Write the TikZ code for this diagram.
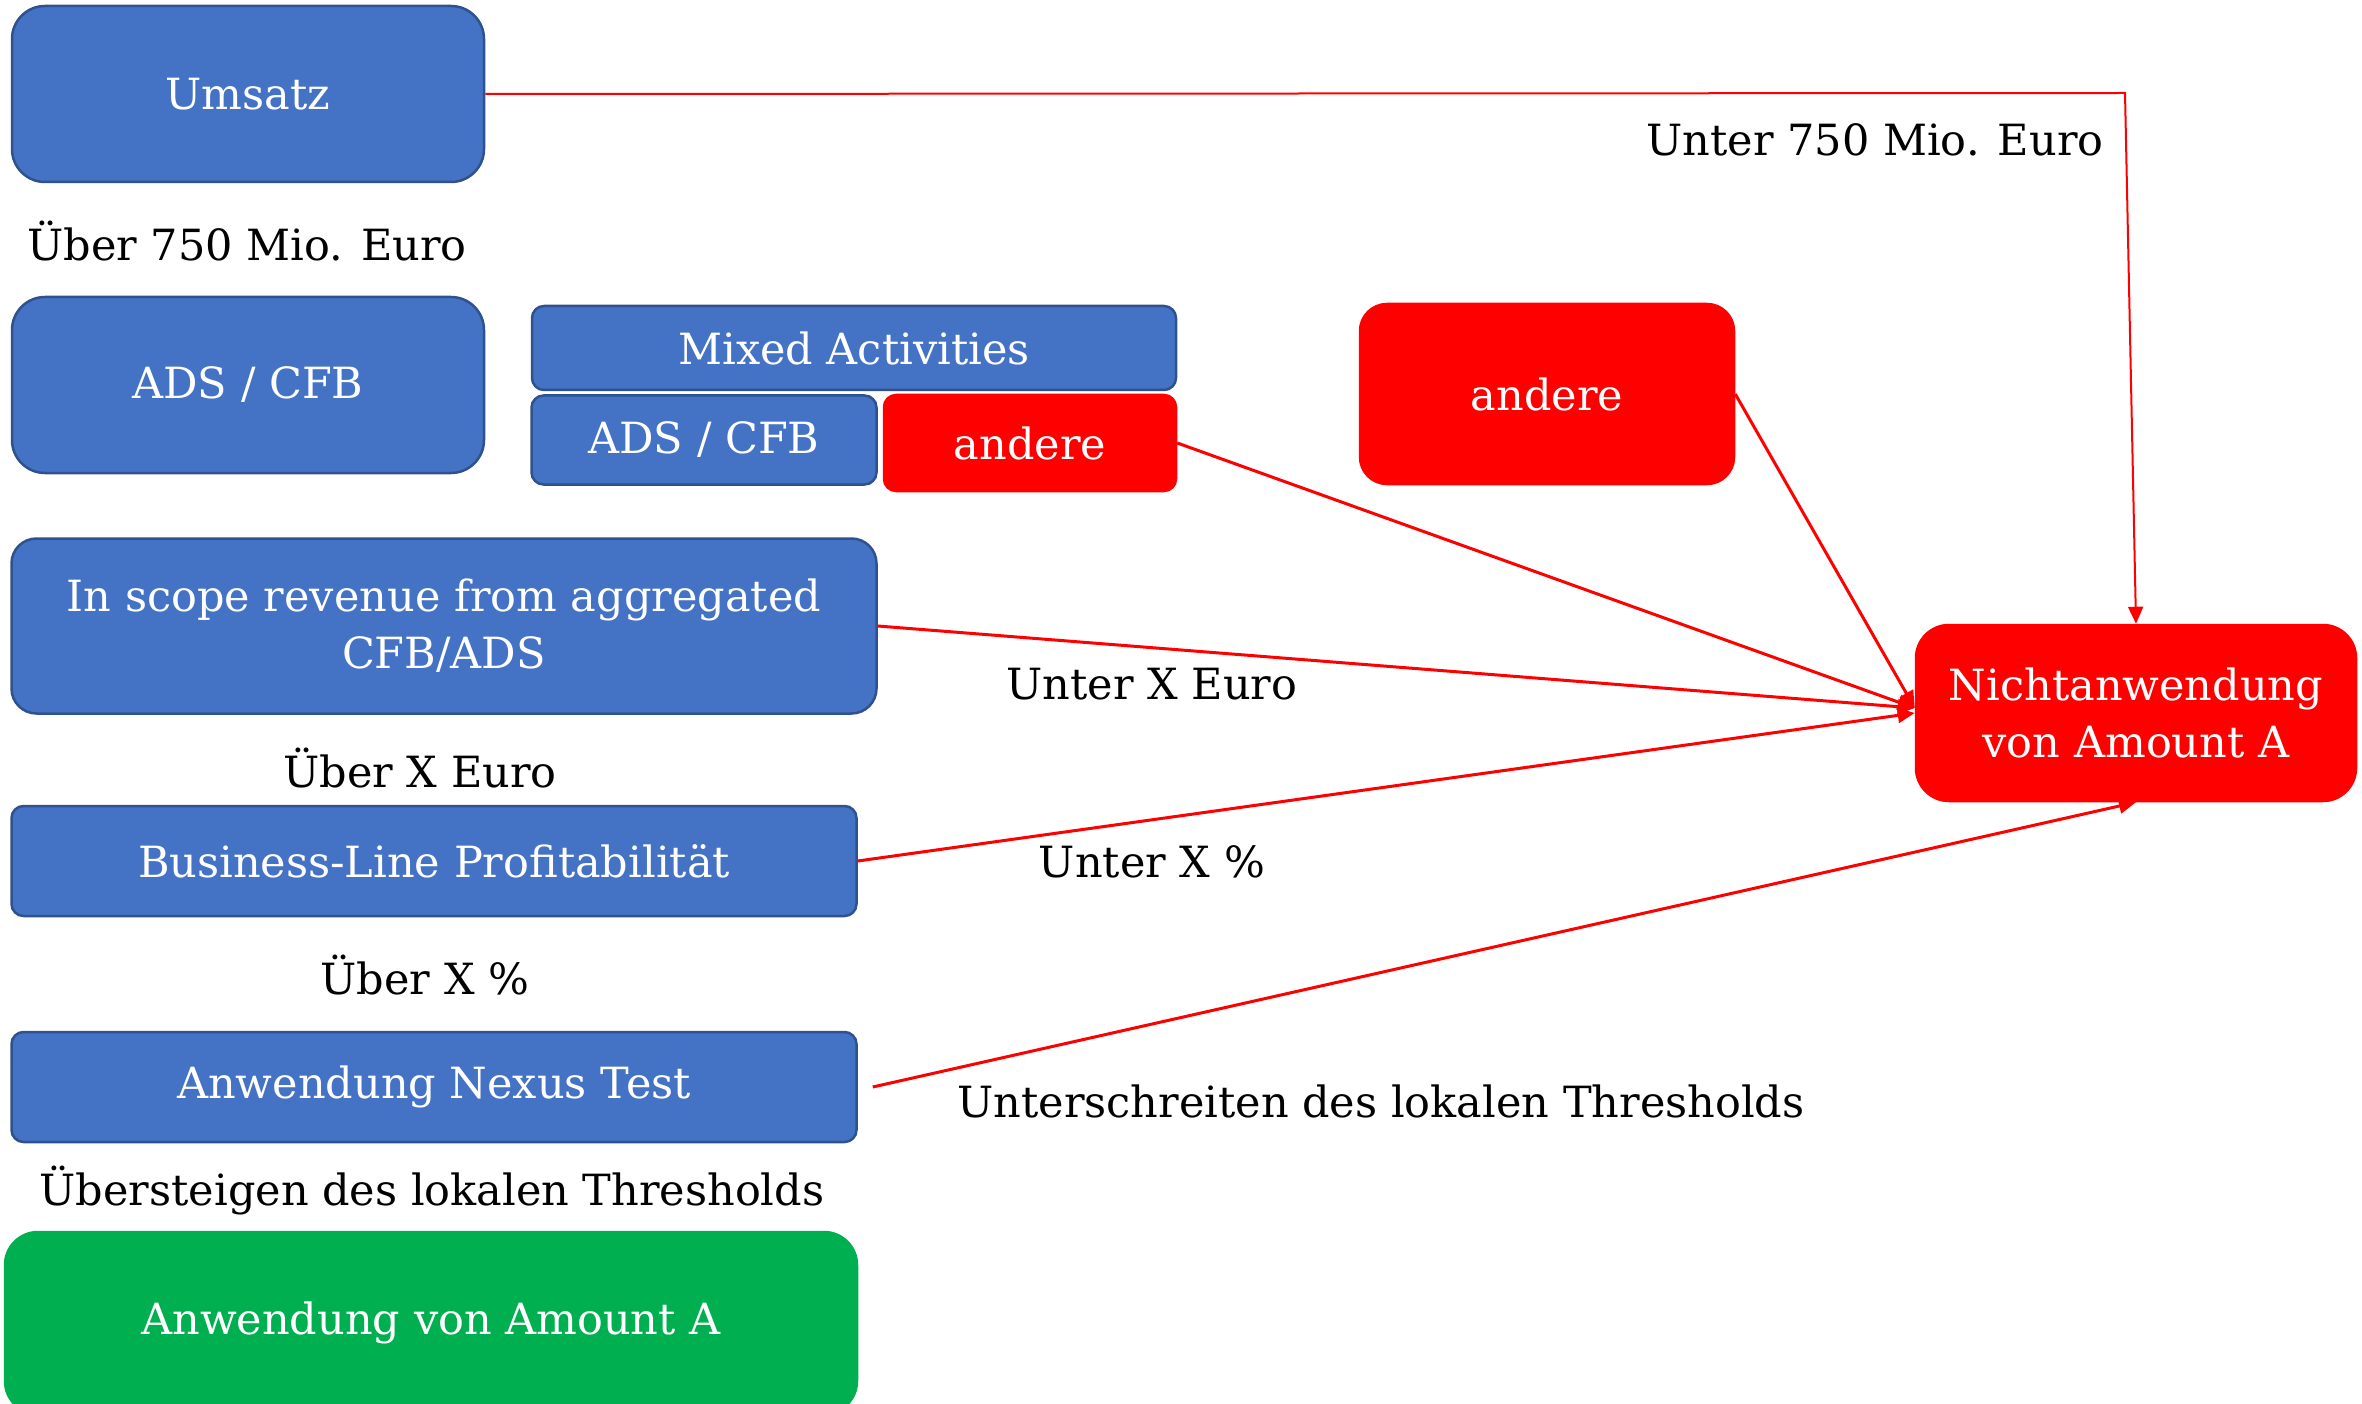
\documentclass[tikz,border=0pt]{standalone}
\usepackage{fontspec}
\setmainfont{DejaVu Serif}
\usepackage{tikz}
\usetikzlibrary{arrows.meta, positioning, calc}
\definecolor{boxblue}{HTML}{4472C4}
\definecolor{boxline}{HTML}{2F528F}
\definecolor{boxred}{HTML}{FF0000}
\definecolor{boxgreen}{HTML}{00B050}

\begin{document}
\begin{tikzpicture}[
    x=1pt, y=-1pt,
    font=\fontsize{43}{57}\selectfont,
    box/.style={draw=boxline, line width=2.5pt, fill=boxblue, text=white, rounded corners=12pt, inner sep=0pt, align=center},
    redbox/.style={box, draw=boxred, fill=boxred},
    greenbox/.style={box, draw=boxgreen, fill=boxgreen},
    lbl/.style={text=black, inner sep=0pt},
    arrow/.style={-{Triangle[length=17pt, width=15pt]}, line width=3pt, draw=boxred}
]
    \useasboundingbox (0,0) rectangle (2362,1404);

    \node[box, rounded corners=33pt, minimum width=472pt, minimum height=176pt] (umsatz) at (248,94) {Umsatz};
    \node[box, rounded corners=33pt, minimum width=472pt, minimum height=176pt] (ads) at (248,385) {ADS / CFB};
    \node[box, minimum width=644pt, minimum height=84pt] (mixed) at (854,348) {Mixed Activities};
    \node[box, minimum width=345pt, minimum height=89pt] (adsmix) at (704,440) {ADS / CFB};
    \node[redbox, minimum width=292pt, minimum height=96pt] (anderemix) at (1030,443) {andere};
    \node[redbox, rounded corners=27pt, minimum width=374pt, minimum height=180pt] (andere) at (1547,394) {andere};
    \node[box, rounded corners=25pt, minimum width=865pt, minimum height=175pt] (scope) at (444,626) {In scope revenue from aggregated\\CFB/ADS};
    \node[box, minimum width=845pt, minimum height=110pt] (bline) at (434,861) {Business-Line Profitabilität};
    \node[box, minimum width=845pt, minimum height=110pt] (nexus) at (434,1087) {Anwendung Nexus Test};
    \node[greenbox, rounded corners=33pt, minimum width=852pt, minimum height=182pt] (amount) at (431,1323) {Anwendung von Amount A};
    \node[redbox, rounded corners=33pt, minimum width=440pt, minimum height=176pt] (nicht) at (2136,713) {Nichtanwendung\\von Amount A};

    \node[lbl] (ueber750) at (247,241) {Über 750 Mio. Euro};
    \node[lbl] (unter750) at (1875,140) {Unter 750 Mio. Euro};
    \node[lbl] (ueberx) at (420,768) {Über X Euro};
    \node[lbl] (unterx) at (1152,684) {Unter X Euro};
    \node[lbl] (ueberpct) at (425,975) {Über X \%};
    \node[lbl] (unterpct) at (1152,862) {Unter X \%};
    \node[lbl] (uebersteigen) at (432,1190) {Übersteigen des lokalen Thresholds};
    \node[lbl] (unterschreiten) at (1381,1101) {Unterschreiten des lokalen Thresholds};

    \coordinate (knick) at (2125,93);
    \draw[arrow, line width=2pt] (umsatz.east) -- (knick) -- (nicht.north);
    \draw[arrow] (anderemix.east) -- ([yshift=5pt]nicht.west);
    \draw[arrow] (andere.east) -- ([yshift=5pt]nicht.west);
    \draw[arrow] (scope.east) -- ([yshift=5pt]nicht.west);
    \draw[arrow] (bline.east) -- (nicht.west);
    \draw[arrow] ([xshift=15pt]nexus.east) -- (nicht.south);
\end{tikzpicture}
\end{document}
